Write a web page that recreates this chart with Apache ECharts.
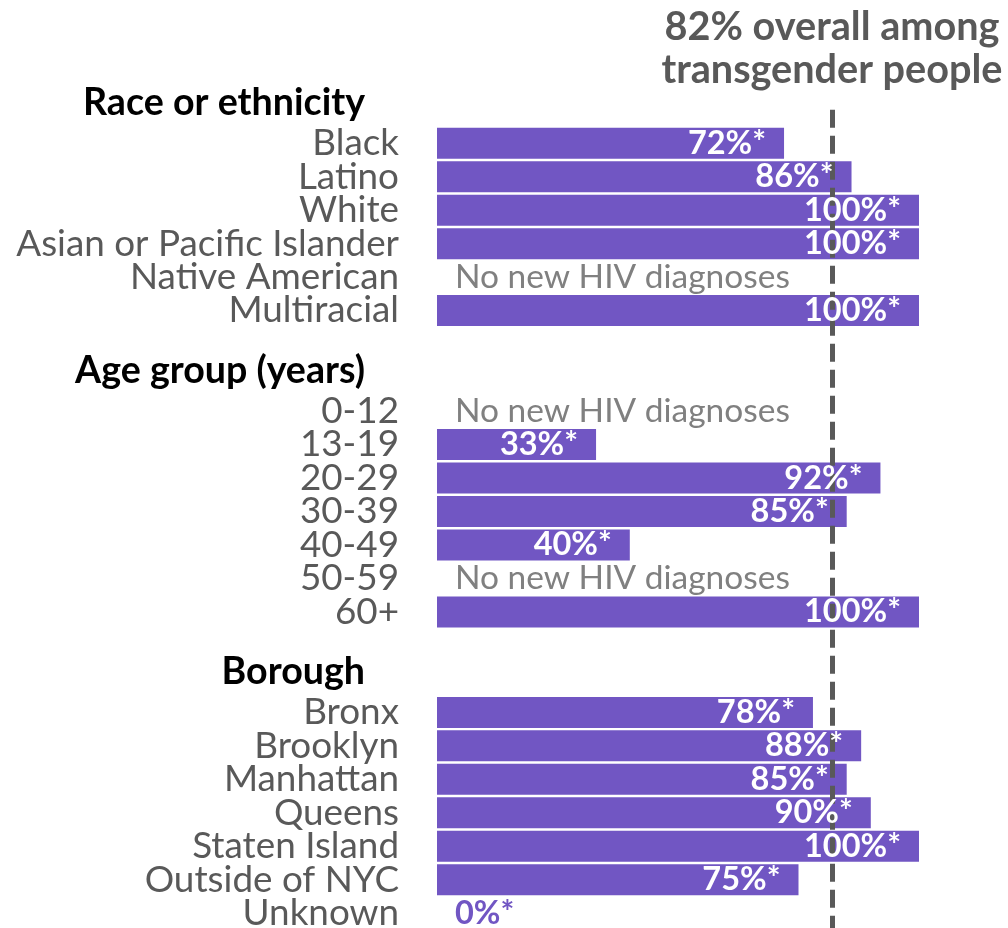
<!DOCTYPE html>
<html>
<head>
<meta charset="utf-8">
<script src="https://cdn.jsdelivr.net/npm/echarts@6/dist/echarts.min.js"></script>
<style>
html,body{margin:0;padding:0;background:#fff;}
#main{width:1008px;height:928px;}
</style>
</head>
<body>
<div id="main"></div>
<script>
// ---- data ----
const groupTitles = ['Race or ethnicity', 'Age group (years)', 'Borough'];
const raceCats = ['Black', 'Latino', 'White', 'Asian or Pacific Islander', 'Native American', 'Multiracial'];
const raceVals = [72, 86, 100, 100, null, 100];
const ageCats = ['0-12', '13-19', '20-29', '30-39', '40-49', '50-59', '60+'];
const ageVals = [null, 33, 92, 85, 40, null, 100];
const boroCats = ['Bronx', 'Brooklyn', 'Manhattan', 'Queens', 'Staten Island', 'Outside of NYC', 'Unknown'];
const boroVals = [78, 88, 85, 90, 100, 75, 0];
const overallValue = 82;
const overallTitle = '82% overall among\ntransgender people';
const noDiagText = 'No new HIV diagnoses';

// ---- font fitting ----
const FONT = 'Lato';
const ctx = document.createElement('canvas').getContext('2d');
function fit(text, weight, target) {
  ctx.font = weight + ' 100px ' + FONT;
  return 100 * target / ctx.measureText(text).width;
}
const catSize = fit('Asian or Pacific Islander', 'normal', 383);
const headSize = fit('Age group (years)', 'bold', 290);
const titleSize = fit('82% overall among', 'bold', 335);
const valSize = fit('100%*', 'bold', 97);
const noDiagSize = fit(noDiagText, 'normal', 335);

// ---- rows ----
const rows = [];
const vals = [];
const headerSet = new Set();
const groups = [[raceCats, raceVals], [ageCats, ageVals], [boroCats, boroVals]];
groups.forEach(([cats, v], gi) => {
  if (gi > 0) { rows.push(' '.repeat(gi)); vals.push('-'); }
  rows.push(groupTitles[gi]); vals.push('-'); headerSet.add(groupTitles[gi]);
  cats.forEach((c, i) => { rows.push(c); vals.push(v[i]); });
});
// trailing empty slot (below the visible area) so the reference line runs to the bottom edge
rows.push('    '); vals.push('-');

const pitch = 33.48;
const purple = '#7156c3';
const barData = vals.map(v => (v === '-' ? '-' : (v === null ? 0 : v)));
const labelData = vals.map(v => {
  if (v === '-') return '-';
  if (v === null) {
    return { value: 0, label: { formatter: noDiagText, color: '#808080', fontWeight: 'normal',
      fontSize: noDiagSize, position: 'right', distance: 18 } };
  }
  if (v === 0) {
    return { value: 0, label: { formatter: '0%*', color: purple, position: 'right', distance: 18 } };
  }
  return { value: v };
});

const chart = echarts.init(document.getElementById('main'));
chart.setOption({
  animation: false,
  graphic: [{
    type: 'text', x: 832, y: 6, z: 100,
    style: {
      text: overallTitle, align: 'center', verticalAlign: 'top',
      font: 'bold ' + titleSize + 'px ' + FONT, fill: '#595959', lineHeight: 43
    }
  }],
  grid: { left: 437, right: 89, top: 93, height: pitch * rows.length, containLabel: false, outerBoundsMode: 'none' },
  xAxis: { type: 'value', min: 0, max: 100, show: false },
  yAxis: {
    type: 'category', inverse: true, data: rows,
    axisLine: { show: false }, axisTick: { show: false },
    axisLabel: {
      margin: 38, fontFamily: FONT, fontSize: catSize, color: '#595959', interval: 0,
      formatter: (val) => headerSet.has(val) ? '{h|' + val + '}' : val,
      rich: {
        h: { fontFamily: FONT, fontWeight: 'bold', fontSize: headSize, color: '#000000', padding: [0, 34, 14, 0] }
      }
    }
  },
  series: [{
    type: 'bar',
    z: 2,
    data: barData,
    barWidth: 31,
    itemStyle: { color: purple },
    markLine: {
      z: 5,
      silent: true, symbol: 'none',
      lineStyle: { color: '#595959', width: 5, type: [18, 8] },
      label: { show: false },
      data: [[{ coord: [overallValue, 0] }, { coord: [overallValue, rows.length - 1] }]]
    }
  }, {
    type: 'bar',
    z: 10,
    data: labelData,
    barWidth: 31,
    barGap: '-100%',
    itemStyle: { color: 'rgba(0,0,0,0)' },
    label: {
      show: true, position: 'insideRight', distance: 18,
      formatter: (p) => p.value + '%*',
      fontFamily: FONT, fontWeight: 'bold', fontSize: valSize, color: '#ffffff'
    }
  }]
});
</script>
</body>
</html>
